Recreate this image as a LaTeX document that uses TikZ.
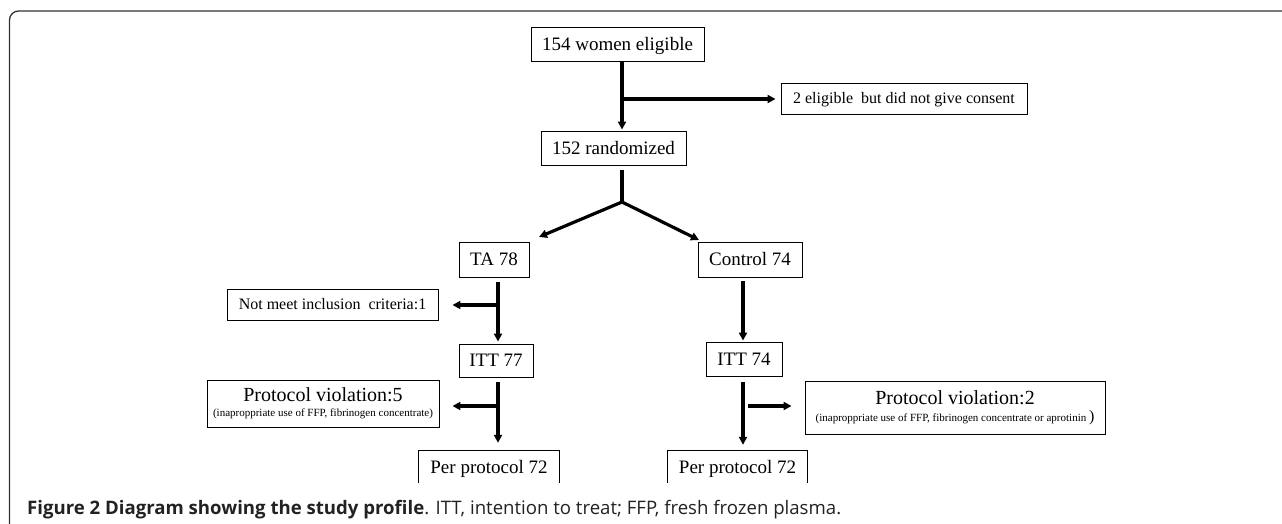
\documentclass[tikz,border=0pt]{standalone}
\usepackage{fontspec}
\setmainfont{Liberation Serif}
\newfontfamily\capfont{Open Sans}
\usetikzlibrary{arrows.meta}
\definecolor{framegray}{HTML}{333333}
\definecolor{captext}{HTML}{222222}
\begin{document}
\begin{tikzpicture}[x=1pt,y=-1pt,
  box/.style={draw=black, line width=0.9pt, inner sep=0pt, anchor=center,
    font=\fontsize{19}{22}\selectfont, text height=12.5pt, text depth=0pt},
  smallbox/.style={box, font=\fontsize{16}{19}\selectfont, text height=10.6pt},
  twobox/.style={draw=black, line width=0.9pt, inner sep=0pt, anchor=center, align=center},
  openbox/.style={inner sep=0pt, anchor=center,
    font=\fontsize{19}{22}\selectfont, text height=12.5pt, text depth=0pt},
  ln/.style={line width=3.2pt},
  arr/.style={line width=3.2pt, -{Triangle[length=8pt,width=8pt]}}]
\useasboundingbox (0,0) rectangle (1282,524);
\fill[white] (0,0) rectangle (1282,524);
\draw[line width=1.3pt, draw=framegray, rounded corners=9pt] (9.5,524) -- (9.5,11) -- (1282,11);

% boxes
\node[box, minimum width=173pt, minimum height=34pt] (a) at (617.5,44) {154 women eligible};
\node[box, minimum width=145pt, minimum height=34pt] (b) at (613.5,148) {152 randomized};
\node[smallbox, minimum width=246pt, minimum height=31pt] (c) at (904,98.5) {2 eligible\hspace{0.5em}but did not give consent};
\node[box, minimum width=70pt, minimum height=35pt] (ta) at (494,259.5) {TA 78};
\node[box, minimum width=104pt, minimum height=35pt] (ct) at (750,259.5) {Control 74};
\node[smallbox, minimum width=211pt, minimum height=31pt] (nm) at (332.5,304.5) {Not meet inclusion\hspace{0.5em}criteria:1};
\node[box, minimum width=74pt, minimum height=33pt] (i77) at (496,360.5) {ITT 77};
\node[box, minimum width=76pt, minimum height=34pt] (i74) at (744,359) {ITT 74};
\node[twobox, minimum width=232pt, minimum height=47pt] (pv5) at (323,403.5)
  {\fontsize{20}{20}\selectfont Protocol violation:5\\[3pt]
   \fontsize{11}{11}\selectfont (inaproppriate use of FFP, fibrinogen concentrate)};
\node[twobox, minimum width=300pt, minimum height=53pt] (pv2) at (955,407.5)
  {\fontsize{20}{20}\selectfont Protocol violation:2\\[5pt]
   \fontsize{11}{11}\selectfont (inaproppriate use of FFP, fibrinogen concentrate or aprotinin {\fontsize{16}{16}\selectfont)}};
\node[openbox, minimum width=140pt, minimum height=32pt] (pp1) at (489,467) {Per protocol 72};
\node[openbox, minimum width=139pt, minimum height=32pt] (pp2) at (737.5,467) {Per protocol 72};
\draw[line width=0.9pt] (pp1.south west) |- (pp1.north east) -- (pp1.south east);
\draw[line width=0.9pt] (pp2.south west) |- (pp2.north east) -- (pp2.south east);

% junctions
\coordinate (jab) at (622,99);
\coordinate (sp) at (622,202);
\coordinate (tat) at (539,237);
\coordinate (ctt) at (699,240);
\coordinate (jta) at (498,305);
\coordinate (j77) at (498,406);
\coordinate (xc) at (743,0);
\coordinate (j74) at (748,406);

% connectors
\draw[arr, shorten >=1pt] (a.south -| jab) -- (b.north -| jab);
\draw[arr, shorten >=5pt] ([xshift=-1.6pt]jab) -- (c.west |- jab);
\draw[ln] ([yshift=-5pt]b.south -| sp) -- ([yshift=-1.6pt]sp);
\draw[arr] (sp) -- (tat);
\draw[arr] (sp) -- (ctt);
\draw[arr, shorten >=2pt] ([yshift=-5pt]ta.south -| jta) -- (i77.north -| jta);
\draw[arr, shorten >=14pt] ([xshift=1.6pt]jta) -- (nm.east |- jta);
\draw[arr, shorten >=8pt] ([yshift=-5pt]i77.south -| j77) -- (pp1.north -| j77);
\draw[arr, shorten >=13pt] ([xshift=1.6pt]j77) -- (pv5.east |- j77);
\draw[arr, shorten >=1pt] ([yshift=-4pt]ct.south -| xc) -- (i74.north -| xc);
\draw[arr, shorten >=6pt] ([yshift=-6pt]i74.south -| xc) -- (pp2.north -| xc);
\draw[arr, shorten >=13pt] (j74) -- (pv2.west |- j74);

% caption
\node[anchor=base west, inner sep=0pt, font=\capfont\fontsize{18.6}{22}\selectfont, text=captext] (cap) at (27,514)
  {\textbf{Figure 2 Diagram showing the study profile}. ITT, intention to treat; FFP, fresh frozen plasma.};
\end{tikzpicture}
\end{document}
